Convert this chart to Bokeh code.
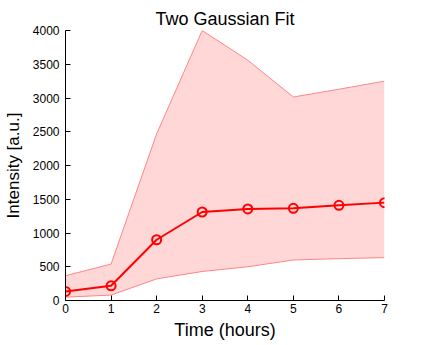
from bokeh.plotting import figure
from bokeh.embed import file_html
from bokeh.resources import INLINE
from bokeh.models import Range1d, FixedTicker

time_h = [0, 1, 2, 3, 4, 5, 6, 7]
mean_intensity = [134, 218, 900, 1311, 1356, 1365, 1410, 1450]
upper_bound = [367, 540, 2470, 4000, 3560, 3015, 3130, 3250]
lower_bound = [50, 80, 320, 430, 500, 600, 620, 635]
x_ticks = [0, 1, 2, 3, 4, 5, 6, 7]
y_ticks = [0, 500, 1000, 1500, 2000, 2500, 3000, 3500, 4000]
title_text = "Two Gaussian Fit"

FONT = "Liberation Sans"

p = figure(width=423, height=345, output_backend="svg", toolbar_location=None,
           x_range=Range1d(0, 7), y_range=Range1d(0, 4000),
           title=title_text,
           min_border_left=64, min_border_right=40, min_border_top=30, min_border_bottom=45)
p.frame_width = 319
p.frame_height = 270

p.varea(x=time_h, y1=lower_bound, y2=upper_bound, fill_color="#FFD7D7", fill_alpha=1.0)
p.line(time_h, upper_bound, line_color="#FF8585", line_width=1)
p.line(time_h, lower_bound, line_color="#FF8585", line_width=1)
p.line(time_h, mean_intensity, line_color="#FF0000", line_width=2)
p.scatter(time_h, mean_intensity, marker="circle", size=9, line_color="#FF0000",
          line_width=2, fill_color=None)

p.title.align = "center"
p.title.vertical_align = "top"
p.title.standoff = 0
p.title.text_font = FONT
p.title.text_font_size = "18px"
p.title.text_font_style = "normal"
p.title.text_color = "black"

p.outline_line_color = None
p.xgrid.grid_line_color = None
p.ygrid.grid_line_color = None
p.background_fill_color = "white"
p.border_fill_color = "white"

for ax in (p.xaxis[0], p.yaxis[0]):
    ax.axis_line_color = "black"
    ax.axis_line_width = 1
    ax.major_tick_in = 5
    ax.major_tick_out = 0
    ax.minor_tick_line_color = None
    ax.major_tick_line_color = "black"
    ax.major_label_text_font = FONT
    ax.major_label_text_font_size = "12px"
    ax.major_label_text_color = "black"
    ax.axis_label_text_font = FONT
    ax.axis_label_text_font_size = "18px"
    ax.axis_label_text_font_style = "normal"
    ax.axis_label_text_color = "black"

p.yaxis[0].axis_label_text_font_size = "17px"
p.xaxis[0].ticker = FixedTicker(ticks=x_ticks)
p.yaxis[0].ticker = FixedTicker(ticks=y_ticks)
p.xaxis[0].axis_label = "Time (hours)"
p.yaxis[0].axis_label = "Intensity [a.u.]"
p.xaxis[0].major_label_standoff = 3
p.yaxis[0].major_label_standoff = 6
p.xaxis[0].axis_label_standoff = 4
p.yaxis[0].axis_label_standoff = 7

open("out.html", "w").write(file_html(p, INLINE))
